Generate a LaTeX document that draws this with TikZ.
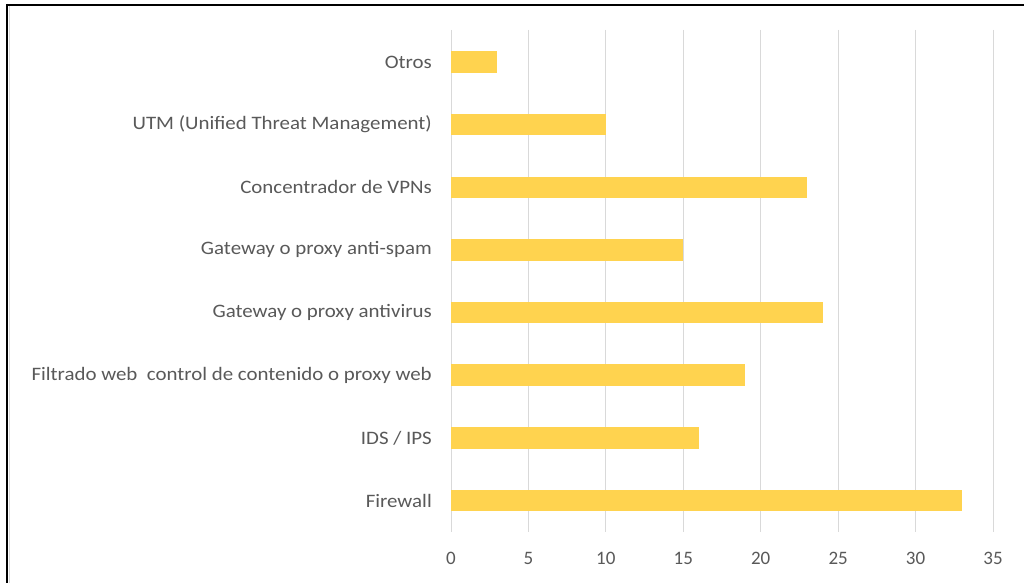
\documentclass[tikz,border=0pt]{standalone}
\usepackage{fontspec}
\setmainfont{Carlito}
\newfontfamily\catfont{Carlito}[FakeStretch=1.1]
\definecolor{barfill}{HTML}{FFD34F}
\definecolor{gridgray}{HTML}{D9D9D9}
\definecolor{textgray}{HTML}{595959}
\begin{document}
\begin{tikzpicture}[x=1pt,y=-1pt,
  gridline/.style={draw=gridgray,line width=1pt},
  bar/.style={fill=barfill,draw=none},
  catlabel/.style={anchor=east,text=textgray,font=\catfont\fontsize{19}{21}\selectfont,inner sep=0pt},
  ticklabel/.style={anchor=center,text=textgray,font=\fontsize{19}{21}\selectfont,inner sep=0pt}]
\useasboundingbox (0,0) rectangle (1024,583);
\fill[white] (0,0) rectangle (1024,583);
% frame
\draw[gridgray,line width=1.2pt] (9.5,6) -- (9.5,583);
\draw[black,line width=2.2pt] (7,5) -- (1024,5);
\draw[black,line width=2.2pt] (7,4) -- (7,583);
% value axis: x = 451 + 15.486*v
\foreach \v [count=\i] in {0,5,...,35}{
  \coordinate (g\i) at ({451+15.486*\v},30);
  \draw[gridline] (g\i) -- ++(0,502);
  \node[ticklabel] (t\i) at ({451+15.486*\v},558) {\v};
}
% bars
\foreach \val/\lab [count=\i] in {
  3/{Otros},
  10/{UTM (Unified Threat Management)},
  23/{Concentrador de VPNs},
  15/{Gateway o proxy anti-spam},
  24/{Gateway o proxy antivirus},
  19/{Filtrado web\ \ control de contenido o proxy web},
  16/{IDS / IPS},
  33/{Firewall}}{
  \path[bar] (451,{62+62.64*(\i-1)-10.75}) rectangle ({451+15.486*\val},{62+62.64*(\i-1)+10.75});
  \node[catlabel] (c\i) at (432,{62+62.64*(\i-1)}) {\lab};
}
\end{tikzpicture}
\end{document}
